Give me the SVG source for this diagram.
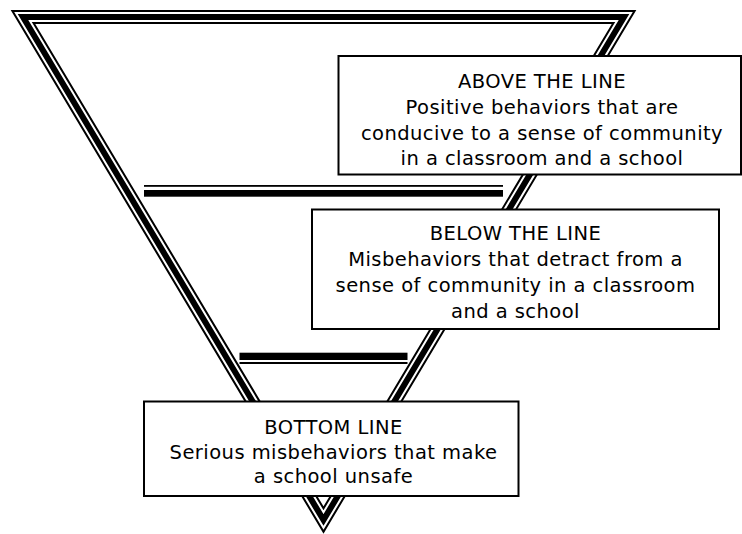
<svg xmlns="http://www.w3.org/2000/svg" width="742" height="534" viewBox="0 0 742 534">
  <style>
    .tri { fill: none; stroke-linejoin: miter; stroke-miterlimit: 10; }
    .box { fill: #ffffff; stroke: #000000; stroke-width: 2; }
    .lbl { font-family: "DejaVu Sans", "Verdana", sans-serif; font-size: 19.5px; letter-spacing: 0.45px; fill: #000000; text-anchor: middle; }
  </style>
  <rect x="0" y="0" width="742" height="534" fill="#ffffff"/>
  <g id="pyramid">
    <path class="tri" d="M23,17 L624,17 L323.5,520 Z" stroke="#000" stroke-width="14"/>
    <path class="tri" d="M23,17 L624,17 L323.5,520 Z" stroke="#fff" stroke-width="10"/>
    <path class="tri" d="M23,17 L624,17 L323.5,520 Z" stroke="#000" stroke-width="6"/>
  </g>
  <g id="divider-lines">
    <rect x="144" y="185" width="359" height="1.8" fill="#000"/>
    <rect x="144" y="190" width="359" height="6.7" fill="#000"/>
    <rect x="239.5" y="352.7" width="168" height="7.3" fill="#000"/>
    <rect x="239.5" y="362" width="168" height="2" fill="#000"/>
  </g>
  <g id="above-the-line">
    <rect class="box" x="338.5" y="56" width="402.5" height="118.5"/>
    <text class="lbl" x="542" y="87.5">ABOVE THE LINE</text>
    <text class="lbl" x="542" y="113.5">Positive behaviors that are</text>
    <text class="lbl" x="542" y="139.5">conducive to a sense of community</text>
    <text class="lbl" x="542" y="165">in a classroom and a school</text>
  </g>
  <g id="below-the-line">
    <rect class="box" x="312" y="209.5" width="407" height="119.5"/>
    <text class="lbl" x="515.5" y="239.5">BELOW THE LINE</text>
    <text class="lbl" x="515.5" y="265.5">Misbehaviors that detract from a</text>
    <text class="lbl" x="515.5" y="291.5">sense of community in a classroom</text>
    <text class="lbl" x="515.5" y="317.5">and a school</text>
  </g>
  <g id="bottom-line">
    <rect class="box" x="144" y="401.5" width="374.5" height="94.5"/>
    <text class="lbl" x="333.5" y="433.5">BOTTOM LINE</text>
    <text class="lbl" x="333.5" y="458.5">Serious misbehaviors that make</text>
    <text class="lbl" x="333.5" y="483">a school unsafe</text>
  </g>
</svg>
